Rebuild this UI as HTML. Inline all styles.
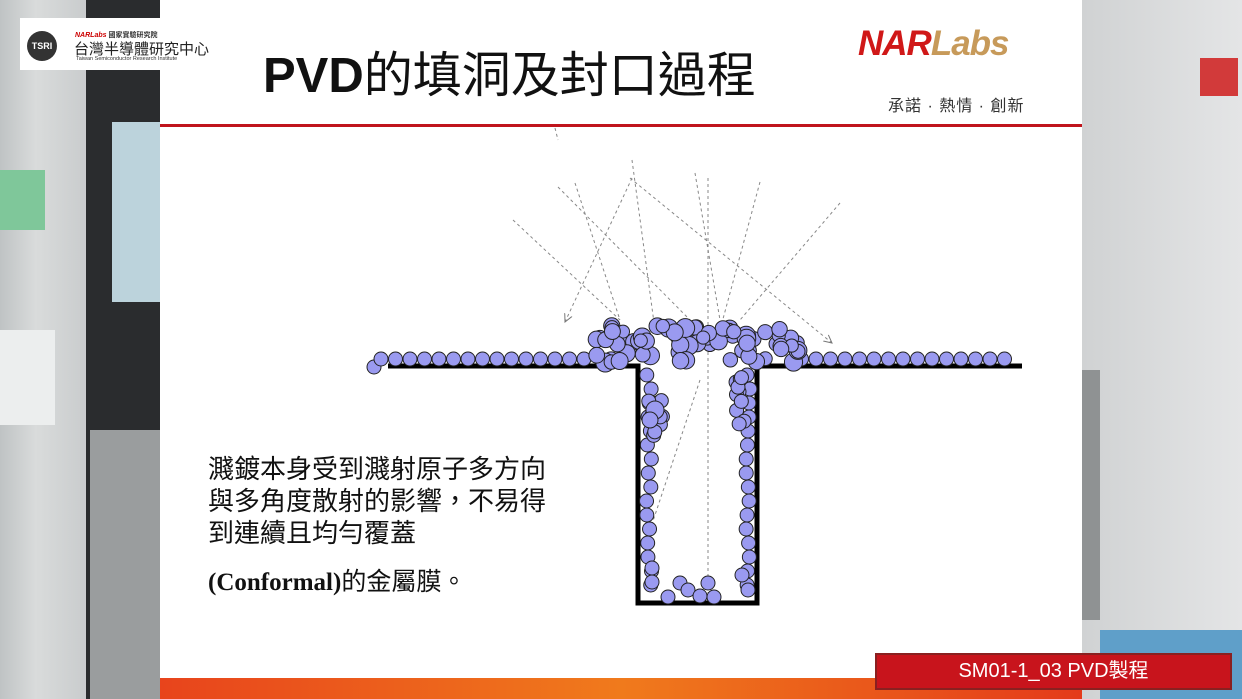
<!DOCTYPE html>
<html><head><meta charset="utf-8"><style>
body{margin:0;width:1242px;height:699px;overflow:hidden;position:relative;background:#d8d8d8;font-family:"Liberation Sans","Noto Sans CJK TC",sans-serif}
.abs{position:absolute}
</style></head><body>
<div class="abs" style="left:0;top:0;width:90px;height:699px;background:linear-gradient(90deg,#bfc3c4,#d9dbdb 40%,#c8cbcc)"></div>
<div class="abs" style="left:86px;top:0;width:74px;height:699px;background:#2a2c2e"></div>
<div class="abs" style="left:112px;top:122px;width:48px;height:180px;background:#bcd3dc"></div>
<div class="abs" style="left:0;top:170px;width:45px;height:60px;background:#7fc79a"></div>
<div class="abs" style="left:0;top:330px;width:55px;height:95px;background:#eceeee"></div>
<div class="abs" style="left:90px;top:430px;width:70px;height:269px;background:#9a9d9e"></div>
<div class="abs" style="left:1082px;top:0;width:160px;height:699px;background:linear-gradient(90deg,#d0d2d3,#e4e5e6)"></div>
<div class="abs" style="left:1082px;top:370px;width:18px;height:250px;background:#8f9293"></div>
<div class="abs" style="left:1200px;top:58px;width:38px;height:38px;background:#d23a3a"></div>
<div class="abs" style="left:1100px;top:630px;width:142px;height:69px;background:#5f9fc9"></div>

<div class="abs" style="left:160px;top:0;width:922px;height:699px;background:#fff"></div>
<div class="abs" style="left:160px;top:124px;width:922px;height:3px;background:#c0141c"></div>
<div class="abs" style="left:160px;top:678px;width:922px;height:21px;background:linear-gradient(90deg,#e8441c,#f07a1c 50%,#e43a1a)"></div>

<div class="abs" style="left:20px;top:18px;width:178px;height:52px;background:#fff"></div>
<div class="abs" style="left:27px;top:31px;width:30px;height:30px;border-radius:50%;background:#333;color:#fff;font-size:9px;font-weight:bold;line-height:30px;text-align:center">TSRI</div>
<div class="abs" style="left:75px;top:30px;font-size:7px;color:#c00;font-weight:bold;font-style:italic">NARLabs <span style="color:#333;font-style:normal">國家實驗研究院</span></div>
<div class="abs" style="left:74px;top:38px;font-size:15px;color:#222">台灣半導體研究中心</div>
<div class="abs" style="left:76px;top:56px;font-size:5.5px;color:#333">Taiwan Semiconductor Research Institute</div>

<div class="abs" style="left:263px;top:36px;font-size:49px;color:#111;white-space:nowrap"><b>PVD</b>的填洞及封口過程</div>
<div class="abs" style="left:858px;top:24px;font-size:35px;font-weight:bold;font-style:italic;color:#d01818;letter-spacing:-1px;white-space:nowrap">NAR<span style="color:#c79a5a">Labs</span></div>
<div class="abs" style="left:888px;top:92px;font-size:16px;color:#333;letter-spacing:1px;white-space:nowrap">承諾 · 熱情 · 創新</div>

<div class="abs" style="left:208px;top:453px;font-size:26px;line-height:32px;color:#111;white-space:nowrap">濺鍍本身受到濺射原子多方向<br>與多角度散射的影響，不易得<br>到連續且均勻覆蓋</div>
<div class="abs" style="left:208px;top:562px;font-size:25px;color:#111;font-family:'Liberation Serif','Noto Sans CJK TC',serif;white-space:nowrap"><b>(Conformal)</b>的金屬膜。</div>

<svg class="abs" style="left:0;top:0" width="1242" height="699" id="s">
<defs><marker id="a" markerWidth="10" markerHeight="10" refX="8" refY="5" orient="auto"><path d="M0,1 L8,5 L0,9" fill="none" stroke="#777" stroke-width="1"/></marker></defs>
<g stroke="#888" stroke-dasharray="3,3" stroke-width="1" fill="none">
<line x1="555" y1="128" x2="558" y2="140"/>
<line x1="632" y1="178" x2="565" y2="322" marker-end="url(#a)"/>
<line x1="575" y1="183" x2="620" y2="320"/>
<line x1="513" y1="220" x2="620" y2="320"/>
<line x1="558" y1="187" x2="700" y2="330"/>
<line x1="632" y1="160" x2="655" y2="330"/>
<line x1="630" y1="178" x2="832" y2="343" marker-end="url(#a)"/>
<line x1="695" y1="173" x2="720" y2="320"/>
<line x1="708" y1="178" x2="708" y2="600"/>
<line x1="760" y1="182" x2="720" y2="330"/>
<line x1="840" y1="203" x2="740" y2="320"/>
<line x1="700" y1="380" x2="645" y2="545"/>
</g>
<g stroke="#000" stroke-width="5" fill="none">
<path d="M388,366 H638 V603 H757 V366 H1022"/>
</g>
<g id="c" fill="#9a9af0" stroke="#222" stroke-width="1"></g>
</svg>
<script>
var g=document.getElementById('c'),s=7;function r(){s=(s*9301+49297)%233280;return s/233280}
function C(x,y,R){var e=document.createElementNS('http://www.w3.org/2000/svg','circle');e.setAttribute('cx',x);e.setAttribute('cy',y);e.setAttribute('r',R||7);g.appendChild(e)}
C(374,367,7);
for(var x=381;x<1016;x+=14.5){if(x>590&&x<800)continue;C(x,359,7)}
for(var i=0;i<80;i++){var x=595+r()*205,y=325+r()*40;var d=Math.abs(x-708);if(d<20&&y>345)y-=18;C(x,y,6.5+r()*3)}
for(var y=375;y<595;y+=14){C(646+r()*6,y,7);C(750-r()*4,y,7)}
for(var i=0;i<10;i++){C(648+r()*15,380+r()*60,7);C(735+r()*12,375+r()*50,7)}
C(655,410,9);C(650,420,8);
[[668,597],[680,583],[688,590],[700,596],[708,583],[714,597],[652,568],[652,582],[742,575],[748,590]].forEach(function(p){C(p[0],p[1],7)});
</script>

<div class="abs" style="left:875px;top:653px;width:353px;height:33px;background:#c8141c;border:2px solid #8a2020;color:#fff;font-size:20px;line-height:33px;text-align:center">SM01-1_03 PVD製程</div>
</body></html>
